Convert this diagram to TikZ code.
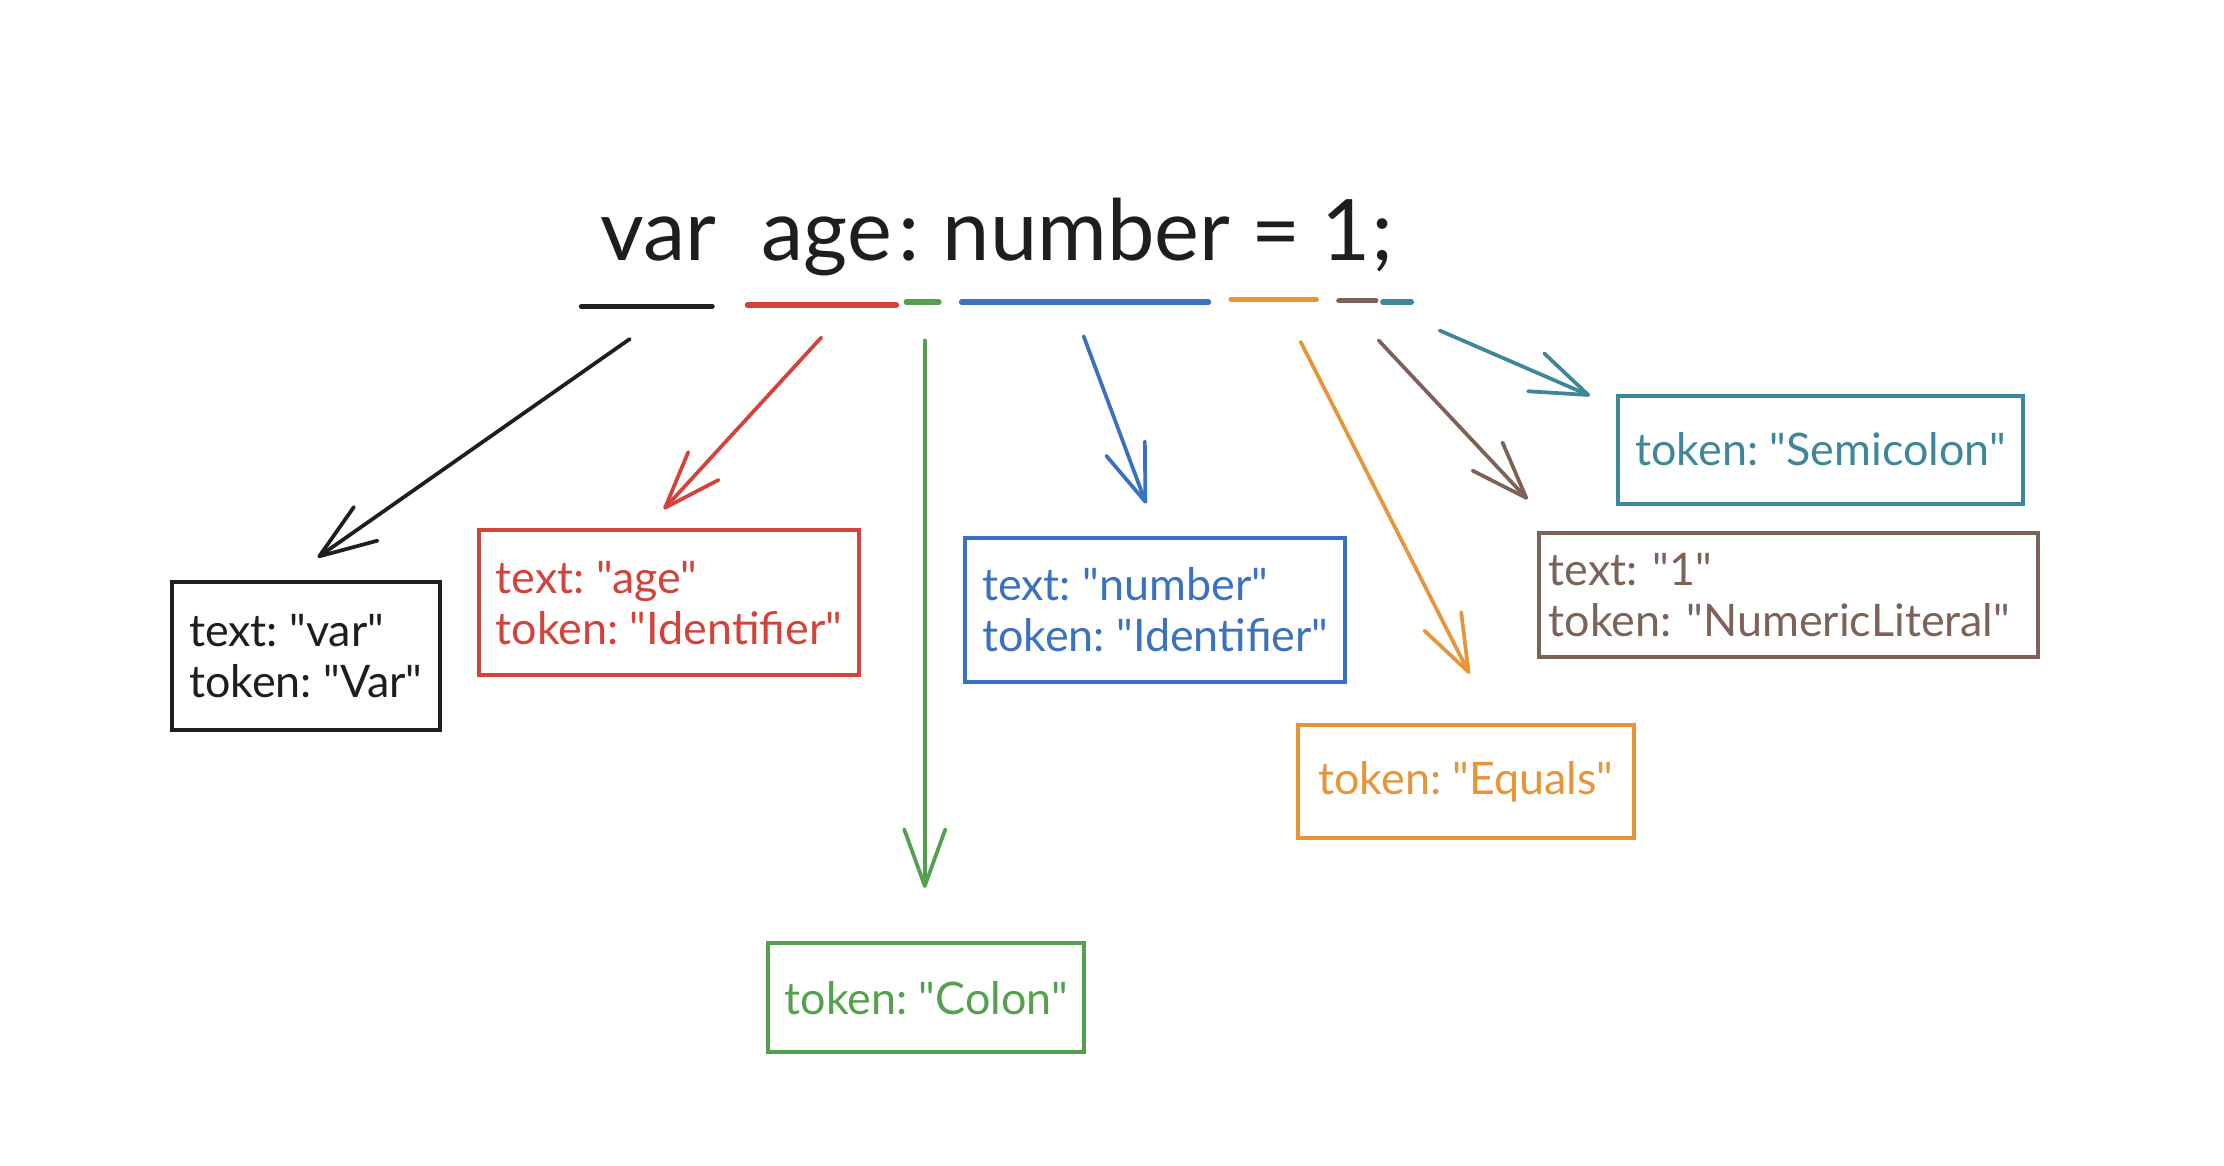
\documentclass[tikz,border=0pt]{standalone}
\usepackage{fontspec}
\setmainfont{Lato}[Ligatures=TeXOff]
\usepackage{xcolor}
\usetikzlibrary{arrows.meta,positioning}
\frenchspacing

\definecolor{varcol}{HTML}{1E1E1E}
\definecolor{agecol}{HTML}{D4433A}
\definecolor{coloncol}{HTML}{54A04E}
\definecolor{numcol}{HTML}{3A71C1}
\definecolor{eqcol}{HTML}{E8953A}
\definecolor{litcol}{HTML}{7D6257}
\definecolor{semicol}{HTML}{3E879A}

\tikzset{
    code/.style={
        anchor=base, inner sep=0pt, text=varcol,
        font=\fontsize{17}{20}\selectfont
    },
    tokbox/.style={
        rectangle, draw, line width=0.8pt, inner ysep=0pt,
        align=left, font=\fontsize{9}{10.3}\selectfont
    },
    onebox/.style={
        tokbox, align=center
    },
    underline/.style={line width=1.1pt, line cap=round},
    pointer/.style={-{Straight Barb[length=4mm, width=2.9mm, round]}, line width=0.75pt, line cap=round}
}

\begin{document}
\begin{tikzpicture}[x=0.1mm, y=-0.1mm]
\useasboundingbox (0,0) rectangle (1568,822);

%% Source line -- one node per token, all on baseline y=184
\node[code] (kwvar)  at (464, 184) {var};
\node[code] (idage)  at (583, 184) {age};
\node[code] (colon)  at (641, 184) {:};
\node[code] (idnum)  at (766, 184) {number};
\node[code] (equals) at (900, 184) {=};
\node[code] (one)    at (949, 184) {1};
\node[code] (semi)   at (975, 184) {;};

%% Coloured underlines, one per token
\draw[underline, varcol]   (410, 216) -- (502, 216);
\draw[underline, agecol]   (527, 215) -- (632, 215);
\draw[underline, coloncol] (639, 213) -- (662, 213);
\draw[underline, numcol]   (678, 213) -- (852, 213);
\draw[underline, eqcol]    (868, 211) -- (928, 211);
\draw[underline, litcol]   (944, 212) -- (970, 212);
\draw[underline, semicol]  (975, 213) -- (995, 213);

%% Token boxes
\node[tokbox, draw=varcol, text=varcol, minimum width=18.9mm, minimum height=10.5mm]
    (varbox) at (215.5, 462.5) {text: "var"\\token: "Var"};
\node[tokbox, draw=agecol, text=agecol, minimum width=26.7mm, minimum height=10.2mm]
    (agebox) at (471.5, 425) {text: "age"\\token: "Identifier"};
\node[onebox, draw=coloncol, text=coloncol, minimum width=22mm, minimum height=7.7mm]
    (colonbox) at (653, 703.5) {token: "Colon"};
\node[tokbox, draw=numcol, text=numcol, minimum width=26.7mm, minimum height=10.2mm]
    (numbox) at (814.5, 430) {text: "number"\\token: "Identifier"};
\node[onebox, draw=eqcol, text=eqcol, minimum width=23.7mm, minimum height=8mm]
    (eqbox) at (1033.5, 551) {token: "Equals"};
\node[tokbox, draw=litcol, text=litcol, text width=33.8mm, inner xsep=0.7mm, minimum height=8.7mm]
    (litbox) at (1261, 419.5) {text: "1"\\token: "NumericLiteral"};
\node[onebox, draw=semicol, text=semicol, minimum width=28.5mm, minimum height=7.6mm]
    (semibox) at (1283.5, 317) {token: "Semicolon"};

%% Arrow ends -- tails under the underlines, tips just short of the boxes
\coordinate (varTail)   at (444, 239);
\coordinate (varTip)    at (224, 393);
\coordinate (ageTail)   at (579, 238);
\coordinate (ageTip)    at (468, 359);
\coordinate (colonTail) at (652, 240);
\coordinate (colonTip)  at (652, 626);
\coordinate (numTail)   at (764, 237);
\coordinate (numTip)    at (808, 355);
\coordinate (eqTail)    at (917, 241);
\coordinate (eqTip)     at (1036, 475);
\coordinate (litTail)   at (972, 240);
\coordinate (litTip)    at (1077, 352);
\coordinate (semiTail)  at (1015, 233);
\coordinate (semiTip)   at (1121, 279);

\draw[pointer, varcol]   (varTail)   -- (varTip);
\draw[pointer, agecol]   (ageTail)   -- (ageTip);
\draw[pointer, coloncol] (colonTail) -- (colonTip);
\draw[pointer, numcol]   (numTail)   -- (numTip);
\draw[pointer, eqcol]    (eqTail)    -- (eqTip);
\draw[pointer, litcol]   (litTail)   -- (litTip);
\draw[pointer, semicol]  (semiTail)  -- (semiTip);

\end{tikzpicture}
\end{document}
